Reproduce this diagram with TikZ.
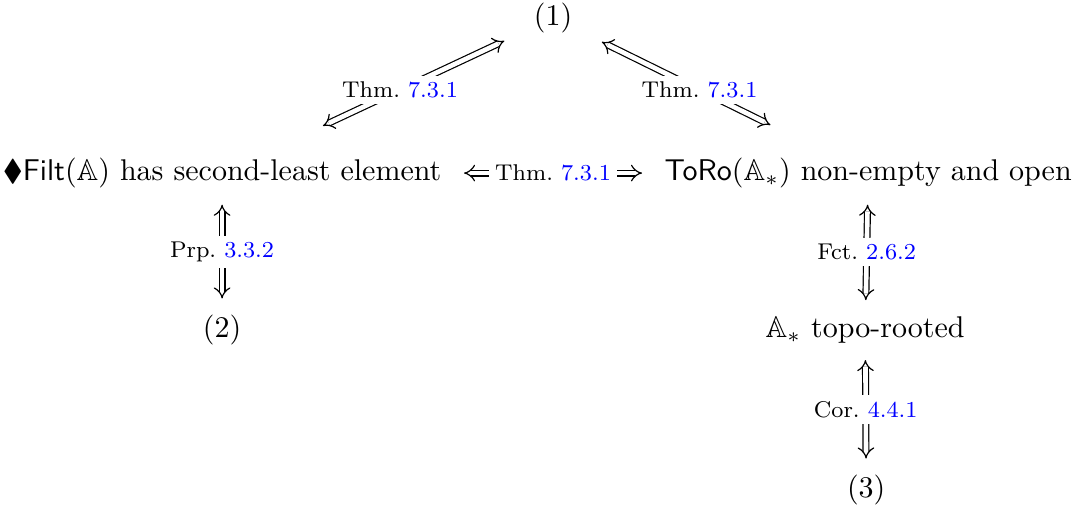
\documentclass[tikz,border=0pt]{standalone}
\usepackage{amssymb}
\usetikzlibrary{arrows.meta}
\begin{document}
\begin{tikzpicture}[
  iff/.style={double, double equal sign distance, {Implies}-{Implies}},
  lbl/.style={fill=white, font=\fontsize{7.6}{9}\selectfont, inner sep=2pt}]
\newcommand{\lnk}[1]{\textcolor{blue}{#1}}
\useasboundingbox (0,0) rectangle (12.59,-5.975);
\path node (one) at (6.478,-0.211) {$(1)$}
node (filt) at (2.601,-2.027) {$\blacklozenge$\textsf{Filt}$(\mathbb{A})$ has second-least element}
node (toro) at (10.168,-2.027) {\textsf{ToRo}$(\mathbb{A}_*)$ non-empty and open}
node (two) at (2.601,-3.866) {$(2)$}
node (rooted) at (10.133,-3.866) {$\mathbb{A}_*$ topo-rooted}
node (three) at (10.145,-5.740) {$(3)$}
;
\draw[iff, shorten <=17pt, shorten >=7pt] (filt) -- (one) node[lbl, midway] {Thm.\ \lnk{7.3.1}};
\draw[iff, shorten <=17pt, shorten >=7pt] (toro) -- (one) node[lbl, midway] {Thm.\ \lnk{7.3.1}};
\draw[iff, shorten <=4pt, shorten >=4pt] (filt) -- (toro) node[lbl, midway] {Thm.\ \lnk{7.3.1}};
\draw[iff, shorten <=2pt, shorten >=2pt] (filt) -- (two) node[lbl, midway] {Prp.\ \lnk{3.3.2}};
\draw[iff, shorten <=2pt, shorten >=2pt] (toro) -- (rooted) node[lbl, midway] {Fct.\ \lnk{2.6.2}};
\draw[iff, shorten <=2pt, shorten >=2pt] (rooted) -- (three) node[lbl, midway] {Cor.\ \lnk{4.4.1}};
\end{tikzpicture}
\end{document}
